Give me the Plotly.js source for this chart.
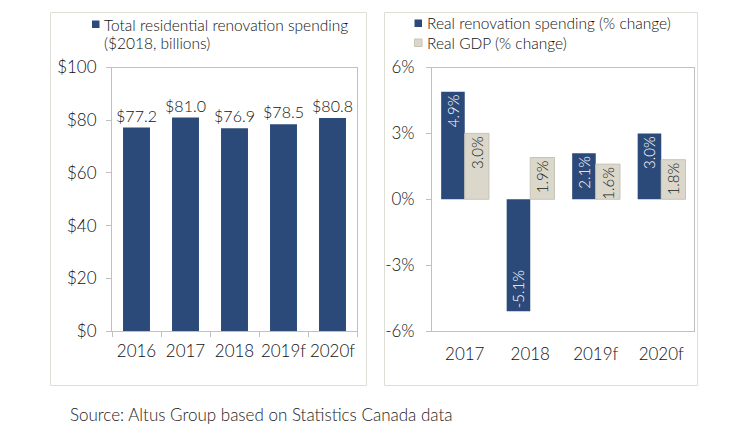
<!DOCTYPE html>
<html>
<head>
<meta charset="utf-8">
<script src="https://cdn.plot.ly/plotly-3.0.1.min.js"></script>
<style>html,body{margin:0;padding:0;background:#fff;}#chart{width:753px;height:442px;}</style>
</head>
<body>
<div id="chart"></div>
<script>
// ---- data ----
const leftYears = ["2016", "2017", "2018", "2019f", "2020f"];
const spending = [77.2, 81.0, 76.9, 78.5, 80.8];
const spendingLabels = ["$77.2", "$81.0", "$76.9", "$78.5", "$80.8"];
const leftSeriesName = ["Total residential renovation spending", "($2018, billions)"];

const rightYears = ["2017", "2018", "2019f", "2020f"];
const renovChange = [4.9, -5.1, 2.1, 3.0];
const gdpChange = [3.0, 1.9, 1.6, 1.8];
const renovLabels = ["4.9%", "-5.1%", "2.1%", "3.0%"];
const gdpLabels = ["3.0%", "1.9%", "1.6%", "1.8%"];
const renovName = "Real renovation spending (% change)";
const gdpName = "Real GDP (% change)";

const leftTickVals = [0, 20, 40, 60, 80, 100];
const leftTickText = ["$0", "$20", "$40", "$60", "$80", "$100"];
const rightTickVals = [-6, -3, 0, 3, 6];
const rightTickText = ["-6%", "-3%", "0%", "3%", "6%"];

const sourceText = "Source: Altus Group based on Statistics Canada data";

// ---- styling ----
const W = 753, H = 442;
const px = v => v / W;
const py = v => 1 - v / H;
const NAVY = "#2b4a79";
const BEIGE = "#dbd8cb";
const BEIGE_LINE = "#c6c3b6";
const FONT = "Lato, 'Open Sans', sans-serif";
const WT = 300;
const TXT = "#111111";
const AXC = "#c0c0c0";

const traces = [
  {
    type: "bar", x: leftYears, y: spending, xaxis: "x", yaxis: "y",
    name: leftSeriesName.join(" "),
    marker: {color: NAVY}, width: 0.55,
    text: spendingLabels, textposition: "outside", cliponaxis: false,
    constraintext: "none",
    textfont: {family: FONT, size: 16, color: TXT, weight: WT},
    hoverinfo: "none"
  },
  {
    type: "bar", x: rightYears, y: renovChange, xaxis: "x2", yaxis: "y2",
    name: renovName,
    marker: {color: NAVY}, width: 0.36, offset: -0.36,
    text: renovLabels, textposition: "inside", textangle: -90,
    insidetextanchor: "end", constraintext: "none",
    textfont: {family: FONT, size: 15, color: "#ffffff", weight: WT},
    hoverinfo: "none"
  },
  {
    type: "bar", x: rightYears, y: gdpChange, xaxis: "x2", yaxis: "y2",
    name: gdpName,
    marker: {color: BEIGE, line: {color: BEIGE_LINE, width: 1}}, width: 0.37, offset: 0,
    text: gdpLabels, textposition: "inside", textangle: -90,
    insidetextanchor: "end", constraintext: "none",
    textfont: {family: FONT, size: 15, color: "#222222", weight: WT},
    hoverinfo: "none"
  }
];

const yDom = [py(331), py(67.5)];
const axFont = {family: FONT, size: 17, color: TXT, weight: WT};
const legFont = {family: FONT, size: 15.5, color: TXT, weight: WT};

const layout = {
  width: W, height: H,
  margin: {l: 0, r: 0, t: 0, b: 0},
  paper_bgcolor: "#ffffff", plot_bgcolor: "#ffffff",
  font: {family: FONT, color: TXT, weight: WT},
  barmode: "overlay",
  showlegend: false,
  xaxis: {
    domain: [px(112), px(357)], anchor: "y", type: "category",
    showline: true, linecolor: AXC, mirror: true,
    ticks: "outside", tickson: "boundaries", ticklen: 5, tickcolor: AXC,
    ticklabelstandoff: 5,
    tickangle: 0, tickfont: axFont, showgrid: false, fixedrange: true
  },
  yaxis: {
    domain: yDom, anchor: "x", range: [0, 100],
    tickvals: leftTickVals, ticktext: leftTickText,
    showline: true, linecolor: AXC, mirror: true,
    ticks: "outside", ticklen: 5, tickcolor: AXC, ticklabelstandoff: 6,
    tickfont: axFont, showgrid: false, zeroline: false, fixedrange: true
  },
  xaxis2: {
    domain: [px(432), px(694)], anchor: "y2", type: "category",
    showline: true, linecolor: AXC, mirror: true,
    ticks: "outside", ticklen: 6, tickcolor: "rgba(0,0,0,0)",
    ticklabelstandoff: 2,
    tickangle: 0, tickfont: axFont, showgrid: false, fixedrange: true
  },
  yaxis2: {
    domain: yDom, anchor: "x2", range: [-6, 6],
    tickvals: rightTickVals, ticktext: rightTickText,
    showline: true, linecolor: AXC, mirror: true,
    ticks: "outside", ticklen: 5, tickcolor: AXC, ticklabelstandoff: 8,
    tickfont: axFont, showgrid: false, zeroline: false, fixedrange: true
  },
  xaxis3: {
    overlaying: "x2", anchor: "free",
    position: (yDom[0] + yDom[1]) / 2,
    range: [-0.5, 3.5], tickvals: [-0.5, 0.5, 1.5, 2.5, 3.5],
    showticklabels: false, showline: true, linecolor: AXC,
    ticks: "outside", ticklen: 5, tickcolor: AXC,
    showgrid: false, zeroline: false, fixedrange: true
  },
  shapes: [
    {type: "rect", xref: "paper", yref: "paper", x0: px(50.5), x1: px(366.5), y0: py(385.5), y1: py(12.5),
     line: {color: "#deded6", width: 1}, layer: "below"},
    {type: "rect", xref: "paper", yref: "paper", x0: px(384.5), x1: px(697.5), y0: py(385.5), y1: py(12.5),
     line: {color: "#deded6", width: 1}, layer: "below"},
    // legend swatches
    {type: "rect", xref: "paper", yref: "paper", x0: px(92), x1: px(99.5), y0: py(28), y1: py(20.5),
     fillcolor: NAVY, line: {width: 0}},
    {type: "rect", xref: "paper", yref: "paper", x0: px(414.5), x1: px(422), y0: py(27), y1: py(19.5),
     fillcolor: NAVY, line: {width: 0}},
    {type: "rect", xref: "paper", yref: "paper", x0: px(414.5), x1: px(422), y0: py(46.5), y1: py(39),
     fillcolor: BEIGE, line: {color: BEIGE_LINE, width: 1}}
  ],
  annotations: [
    {text: leftSeriesName[0], xref: "paper", yref: "paper", x: px(102), y: py(25),
     xanchor: "left", yanchor: "middle", showarrow: false, font: legFont},
    {text: leftSeriesName[1], xref: "paper", yref: "paper", x: px(102), y: py(43),
     xanchor: "left", yanchor: "middle", showarrow: false, font: legFont},
    {text: renovName, xref: "paper", yref: "paper", x: px(425), y: py(23),
     xanchor: "left", yanchor: "middle", showarrow: false, font: legFont},
    {text: gdpName, xref: "paper", yref: "paper", x: px(425), y: py(43),
     xanchor: "left", yanchor: "middle", showarrow: false, font: legFont},
    {text: sourceText, xref: "paper", yref: "paper", x: px(68), y: py(414),
     xanchor: "left", yanchor: "middle", showarrow: false,
     font: {family: FONT, size: 17, color: "#222222", weight: WT}}
  ]
};

Plotly.newPlot("chart", traces, layout, {displayModeBar: false, staticPlot: true});
</script>
</body>
</html>
